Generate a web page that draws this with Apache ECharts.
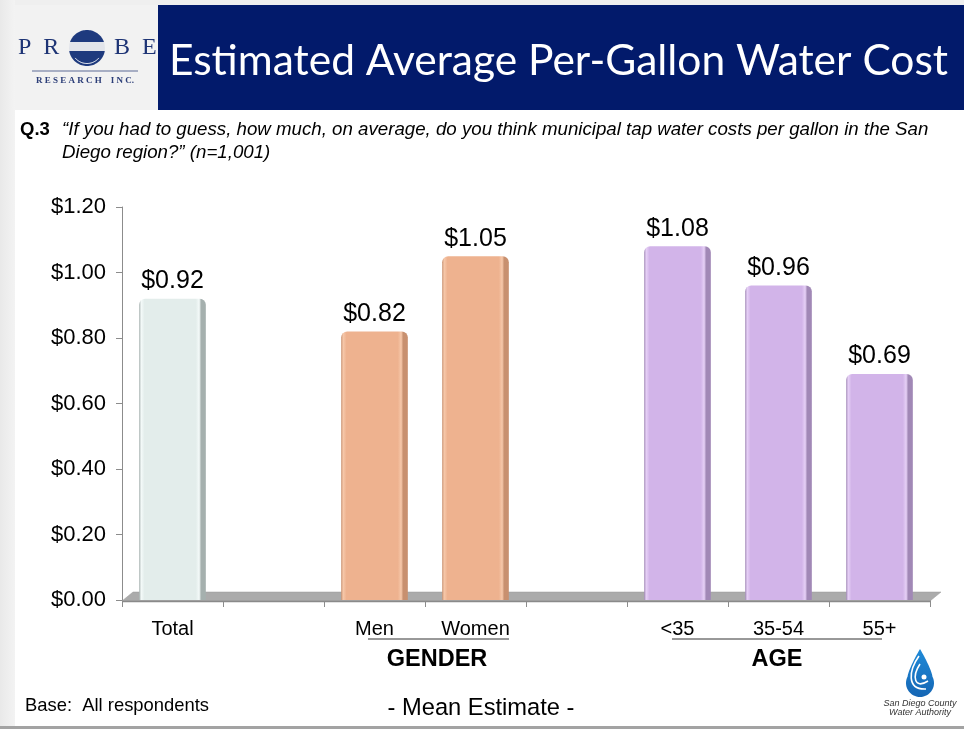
<!DOCTYPE html>
<html>
<head>
<meta charset="utf-8">
<script src="https://cdn.jsdelivr.net/npm/echarts@6/dist/echarts.min.js"></script>
<style>
html,body{margin:0;padding:0;background:#fff;}
#c{width:964px;height:729px;}
</style>
</head>
<body>
<div id="c"></div>
<script>
// ---- data ----
const categories = ['Total', '', 'Men', 'Women', '', '<35', '35-54', '55+'];
const values = [0.92, null, 0.82, 1.05, null, 1.08, 0.96, 0.69];
const groupOf = ['total', null, 'gender', 'gender', null, 'age', 'age', 'age'];
const yTicks = [0, 0.2, 0.4, 0.6, 0.8, 1.0, 1.2];
const titleText = 'Estimated Average Per-Gallon Water Cost';
const questionLine1 = '\u201cIf you had to guess, how much, on average, do you think municipal tap water costs per gallon in the San';
const questionLine2 = 'Diego region?\u201d (n=1,001)';

// ---- styles ----
const palette = {
  total:  {light:'#F4FAF9', body:'#E3EDEB', dark:'#A5B0AE'},
  gender: {light:'#F6C8AA', body:'#EEB28F', dark:'#C8906F'},
  age:    {light:'#E6D0F6', body:'#D2B4E9', dark:'#A188B6'}
};
function barColor(g){
  const p = palette[g];
  return new echarts.graphic.LinearGradient(0,0,1,0,[
    {offset:0, color:p.dark},
    {offset:0.03, color:p.light},
    {offset:0.08, color:p.body},
    {offset:0.85, color:p.body},
    {offset:0.9, color:p.light},
    {offset:0.93, color:p.dark},
    {offset:1, color:p.dark}
  ]);
}
const barData = values.map((v,i)=> v==null ? '-' : ({
  value:v,
  itemStyle:{color:barColor(groupOf[i]), borderRadius:[6,6,0,0]}
}));

const FONT = '"Liberation Sans", Arial, sans-serif';
const chart = echarts.init(document.getElementById('c'), null, {renderer:'canvas'});

const option = {
  animation:false,
  backgroundColor:'#ffffff',
  grid:{left:122, right:34, top:207, bottom:129, containLabel:false},
  xAxis:{
    type:'category',
    data:categories,
    boundaryGap:true,
    axisLine:{show:true, lineStyle:{color:'#8c8c8c', width:1}},
    axisTick:{show:true, interval:0, length:7, lineStyle:{color:'#8c8c8c'}},
    axisLabel:{interval:0, fontFamily:FONT, fontSize:20, color:'#000', margin:19},
    splitLine:{show:false}
  },
  yAxis:{
    type:'value',
    min:0, max:1.2, interval:0.2,
    axisLine:{show:true, lineStyle:{color:'#8c8c8c'}},
    axisTick:{show:true, length:6, lineStyle:{color:'#8c8c8c'}},
    axisLabel:{fontFamily:FONT, fontSize:22, color:'#000', margin:16,
      formatter:v=>'$'+v.toFixed(2)},
    splitLine:{show:false}
  },
  series:[
    {
      type:'custom',
      z:1,
      silent:true,
      data:[[0,0]],
      renderItem:function(params, api){
        const cs = params.coordSys;
        const y0 = api.coord([0,0])[1];
        const x0 = cs.x, x1 = cs.x + cs.width;
        const d = 11, h = 9;
        return {
          type:'group',
          children:[
            {type:'polygon', shape:{points:[[x0,y0+1],[x1,y0+1],[x1+d,y0+1-h],[x0+d,y0+1-h]]},
             style:{fill:'#ABABAB', stroke:'#9a9a9a', lineWidth:0.5}},
            {type:'line', shape:{x1:x0, y1:y0+1.5, x2:x1, y2:y0+1.5}, style:{stroke:'#8a8a8a', lineWidth:1.5}}
          ]
        };
      }
    },
    {
      type:'bar',
      z:3,
      data:barData,
      barWidth:'66%',
      label:{
        show:true, position:'top', distance:5,
        fontFamily:FONT, fontSize:25, color:'#000',
        formatter:p=>'$'+Number(p.value).toFixed(2)
      }
    }
  ]
};
chart.setOption(option);

// ---- helpers for logo shapes ----
function capPoints(cx, cy, r, yCut, top){
  const dy = yCut - cy;
  const a = Math.asin(Math.max(-1, Math.min(1, dy / r)));
  const pts = [];
  const n = 40;
  let t0, t1;
  if (top) { t0 = Math.PI - a; t1 = 2*Math.PI + a; }
  else { t0 = a; t1 = Math.PI - a; }
  for (let k=0;k<=n;k++){
    const t = t0 + (t1 - t0) * k / n;
    pts.push([cx + r*Math.cos(t), cy + r*Math.sin(t)]);
  }
  return pts;
}
function dropPoints(cx, topY, bottomY, halfW){
  const pts = [];
  const rr = halfW;
  const cyc = bottomY - rr;
  const n = 40;
  for (let k=0;k<=n;k++){
    const t = (-0.15*Math.PI) + (1.3*Math.PI)*k/n;
    pts.push([cx + rr*Math.cos(t), cyc + rr*Math.sin(t)]);
  }
  const L = pts[pts.length-1];
  const R = pts[0];
  for (let k=1;k<=15;k++){
    const s = k/15;
    pts.push([L[0] + (cx - L[0]) * Math.pow(s, 1.3), L[1] + (topY - L[1]) * s]);
  }
  for (let k=14;k>=1;k--){
    const s = k/15;
    pts.push([R[0] + (cx - R[0]) * Math.pow(s, 1.3), R[1] + (topY - R[1]) * s]);
  }
  return pts;
}

// ---- decorations (slide furniture) ----
const gfx = [
  {type:'rect', shape:{x:0,y:0,width:964,height:5}, style:{fill:'#EFEFEF'}, z:0},
  {type:'rect', shape:{x:0,y:0,width:15,height:729},
    style:{fill:new echarts.graphic.LinearGradient(0,0,1,0,[{offset:0,color:'#E9E9E9'},{offset:1,color:'#F3F3F3'}])}, z:0},
  {type:'rect', shape:{x:15,y:5,width:143,height:105}, style:{fill:'#F2F2F2'}, z:0},
  {type:'rect', shape:{x:0,y:726,width:964,height:3}, style:{fill:'#A3A3A3'}, z:0},
  // banner
  {type:'rect', shape:{x:158,y:5,width:806,height:105}, style:{fill:'#021A6B'}, z:1},
  {type:'text', x:169, y:61, style:{text:titleText, fill:'#fff', font:'400 42.5px Lato, "Open Sans", sans-serif', verticalAlign:'middle', align:'left'}, z:2},
  // PROBE logo
  {type:'text', x:18, y:48, style:{text:'P  R', fill:'#1E3475', font:'24px "Liberation Serif", "DejaVu Serif", serif', verticalAlign:'middle'}, z:2},
  {type:'text', x:114, y:48, style:{text:'B  E', fill:'#1E3475', font:'24px "Liberation Serif", "DejaVu Serif", serif', verticalAlign:'middle'}, z:2},
  {type:'circle', shape:{cx:87,cy:48,r:18}, style:{fill:'#E2E4EA'}, z:2},
  {type:'polygon', shape:{points:capPoints(87,48,18,42,true)}, style:{fill:'#1E3A7E'}, z:3},
  {type:'polygon', shape:{points:capPoints(87,48,18,51,false)}, style:{fill:'#1E3A7E'}, z:3},
  {type:'polyline', shape:{points:capPoints(87,48,15.5,56,false).slice(3,-3)}, style:{stroke:'#ffffff', lineWidth:1, fill:null}, z:4},
  {type:'line', shape:{x1:32,y1:71,x2:138,y2:71}, style:{stroke:'#5C6B95', lineWidth:1}, z:2},
  {type:'text', x:85, y:81, style:{text:'R E S E A R C H    I N C.', fill:'#2C3E78', font:'bold 9px "Liberation Serif", serif', align:'center', verticalAlign:'middle'}, z:2},
  // question
  {type:'text', x:20, y:130, style:{text:'Q.3', fill:'#000', font:'bold 18.5px '+FONT, verticalAlign:'middle'}, z:2},
  {type:'text', x:62, y:130, style:{text:questionLine1, fill:'#000', font:'italic 18.7px '+FONT, verticalAlign:'middle'}, z:2},
  {type:'text', x:62, y:153, style:{text:questionLine2, fill:'#000', font:'italic 18.7px '+FONT, verticalAlign:'middle'}, z:2},
  // group labels
  {type:'line', shape:{x1:368,y1:639,x2:509,y2:639}, style:{stroke:'#333', lineWidth:1}, z:2},
  {type:'line', shape:{x1:672,y1:639,x2:882,y2:639}, style:{stroke:'#333', lineWidth:1}, z:2},
  {type:'text', x:437, y:660, style:{text:'GENDER', fill:'#000', font:'bold 23.5px '+FONT, align:'center', verticalAlign:'middle'}, z:2},
  {type:'text', x:777, y:660, style:{text:'AGE', fill:'#000', font:'bold 23.5px '+FONT, align:'center', verticalAlign:'middle'}, z:2},
  // footer
  {type:'text', x:25, y:706, style:{text:'Base:  All respondents', fill:'#000', font:'18.4px '+FONT, verticalAlign:'middle'}, z:2},
  {type:'text', x:481, y:708, style:{text:'- Mean Estimate -', fill:'#000', font:'23.7px '+FONT, align:'center', verticalAlign:'middle'}, z:2},
  // water authority logo
  {type:'polygon', shape:{points:dropPoints(920,649,697,14)},
    style:{fill:new echarts.graphic.LinearGradient(0,0,0,1,[{offset:0,color:'#1F8AD8'},{offset:1,color:'#1566B4'}])}, z:2},
  {type:'bezierCurve', shape:{x1:919,y1:656,cpx1:909,cpy1:670,cpx2:906,cpy2:690,x2:926,y2:689}, style:{fill:null, stroke:'#fff', lineWidth:1.6}, z:3},
  {type:'bezierCurve', shape:{x1:920,y1:664,cpx1:912,cpy1:676,cpx2:914,cpy2:690,x2:928,y2:681}, style:{fill:null, stroke:'#fff', lineWidth:1.6}, z:3},
  {type:'circle', shape:{cx:924,cy:677,r:2.5}, style:{fill:'#fff'}, z:3},
  {type:'text', x:920, y:703, style:{text:'San Diego County', fill:'#333', font:'italic 9px '+FONT, align:'center', verticalAlign:'middle'}, z:2},
  {type:'text', x:920, y:712, style:{text:'Water Authority', fill:'#333', font:'italic 9px '+FONT, align:'center', verticalAlign:'middle'}, z:2}
];
chart.setOption({graphic:{elements:gfx}});
</script>
</body>
</html>
